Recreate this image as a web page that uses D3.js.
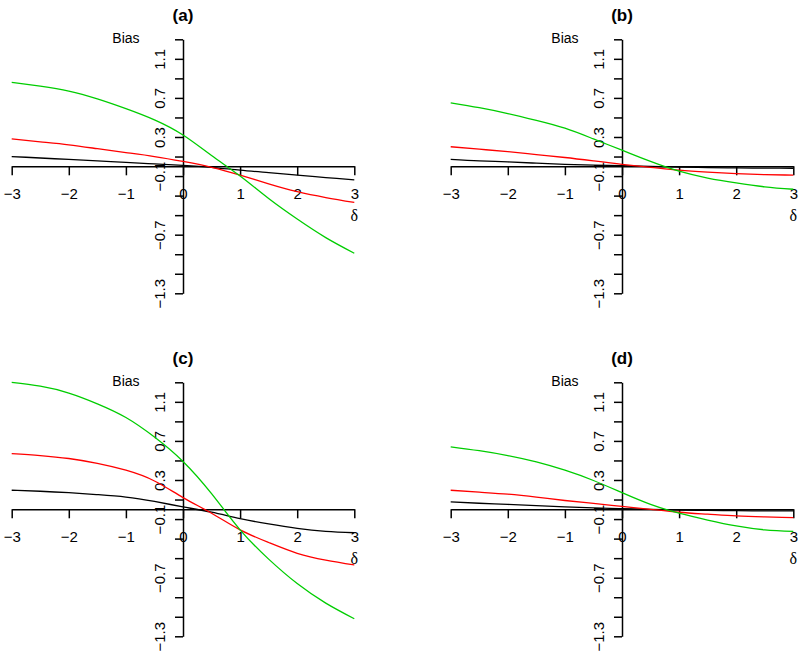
<!DOCTYPE html>
<html><head><meta charset="utf-8">
<script src="https://cdn.jsdelivr.net/npm/d3@7"></script>
<style>body{margin:0;background:#fff}svg{display:block}</style>
</head><body>
<svg id="chart" width="800" height="654"></svg>
<script>
// ---- data ----
const deltas = [-3,-2.5,-2,-1.5,-1,-0.5,0,0.5,1,1.5,2,2.5,3];
const panelTitles = ["(a)","(b)","(c)","(d)"];
const xTicks = [-3,-2,-1,0,1,2,3];
const yTicks = [-1.3,-1.1,-0.9,-0.7,-0.5,-0.3,-0.1,0.1,0.3,0.5,0.7,0.9,1.1,1.3];
const yTickLabels = [-1.3,-0.7,-0.1,0.3,0.7,1.1];
const seriesColors = ["#000000","#FF0000","#00CD00"];

const blackA = [0.10,0.085,0.07,0.055,0.04,0.025,0.01,-0.01,-0.04,-0.065,-0.09,-0.115,-0.14];
const redA   = [0.28,0.25,0.22,0.18,0.14,0.10,0.05,-0.01,-0.09,-0.18,-0.26,-0.32,-0.37];
const greenA = [0.86,0.82,0.77,0.69,0.59,0.475,0.32,0.11,-0.10,-0.33,-0.54,-0.73,-0.89];

const blackB = [0.07,0.055,0.045,0.032,0.02,0.012,0.007,0.0,-0.008,-0.013,-0.017,-0.019,-0.02];
const redB   = [0.20,0.175,0.15,0.12,0.09,0.055,0.02,-0.01,-0.04,-0.06,-0.075,-0.085,-0.09];
const greenB = [0.65,0.60,0.54,0.47,0.39,0.28,0.165,0.05,-0.05,-0.12,-0.17,-0.21,-0.235];

const blackC = [0.195,0.185,0.17,0.15,0.125,0.08,0.025,-0.03,-0.095,-0.15,-0.195,-0.225,-0.24];
const redC   = [0.57,0.55,0.52,0.47,0.40,0.29,0.12,-0.04,-0.21,-0.34,-0.45,-0.52,-0.57];
const greenC = [1.30,1.26,1.19,1.08,0.94,0.74,0.49,0.16,-0.21,-0.51,-0.76,-0.96,-1.12];

const blackD = [0.075,0.062,0.05,0.037,0.024,0.015,0.007,0.0,-0.007,-0.011,-0.014,-0.016,-0.017];
const redD   = [0.195,0.175,0.155,0.125,0.09,0.06,0.03,0.0,-0.03,-0.05,-0.068,-0.078,-0.085];
const greenD = [0.64,0.60,0.55,0.485,0.40,0.295,0.17,0.05,-0.04,-0.11,-0.17,-0.21,-0.225];

const panelSeries = [
  [blackA, redA, greenA],
  [blackB, redB, greenB],
  [blackC, redC, greenC],
  [blackD, redD, greenD]
];

// ---- layout ----
const origins = [[11.7,39.3],[450.7,39.3],[11.7,382.3],[450.7,382.3]];
const W = 342.6, H = 254;
const svg = d3.select("#chart");
const sans = "'Liberation Sans', Arial, sans-serif";

const x = d3.scaleLinear().domain([-3,3]).range([0,W]);
const y = d3.scaleLinear().domain([-1.3,1.3]).range([H,0]);
const fmtNum = d => (d < 0 ? "\u2212" : "") + Math.abs(d).toString();
const isLabeled = d => yTickLabels.some(v => Math.abs(v - d) < 1e-9);

panelSeries.forEach((series, i) => {
  const g = svg.append("g").attr("transform", `translate(${origins[i][0]},${origins[i][1]})`);

  // x axis at y = 0
  const xa = g.append("g").attr("transform", `translate(0,${y(0)})`)
    .call(d3.axisBottom(x).tickValues(xTicks).tickSize(9).tickSizeOuter(0).tickPadding(13)
      .tickFormat(d => fmtNum(d)));
  xa.selectAll("path,line").attr("stroke","#000").attr("stroke-width",1.5);
  xa.selectAll("text").attr("font-family", sans).attr("font-size", 15).attr("fill","#000");

  // y axis at x = 0
  const ya = g.append("g").attr("transform", `translate(${x(0)},0)`)
    .call(d3.axisLeft(y).tickValues(yTicks).tickSize(8).tickSizeOuter(0)
      .tickFormat(d => isLabeled(d) ? fmtNum(d) : ""));
  ya.selectAll("path,line").attr("stroke","#000").attr("stroke-width",1.5);
  ya.selectAll("text").attr("font-family", sans).attr("font-size", 15).attr("fill","#000")
    .attr("text-anchor","middle").attr("x",0).attr("y",-18).attr("dy",0)
    .attr("transform","rotate(-90)");

  // curves
  const line = d3.line().x((d,k) => x(deltas[k])).y(d => y(d)).curve(d3.curveNatural);
  series.forEach((vals, s) => {
    g.append("path").datum(vals).attr("d", line)
      .attr("fill","none").attr("stroke", seriesColors[s]).attr("stroke-width",1.3);
  });

  // labels
  g.append("text").attr("x", x(0) - 57).attr("y", 4).attr("text-anchor","middle")
    .attr("font-family", sans).attr("font-size", 14).text("Bias");
  g.append("text").attr("x", x(3)).attr("y", y(0) + 55).attr("text-anchor","middle")
    .attr("font-family", "'Liberation Serif', 'DejaVu Serif', serif").attr("font-size", 16).text("\u03B4");
  g.append("text").attr("x", x(0)).attr("y", -18).attr("text-anchor","middle")
    .attr("font-family", sans).attr("font-size", 17).attr("font-weight","bold").text(panelTitles[i]);
});
</script>
</body></html>
